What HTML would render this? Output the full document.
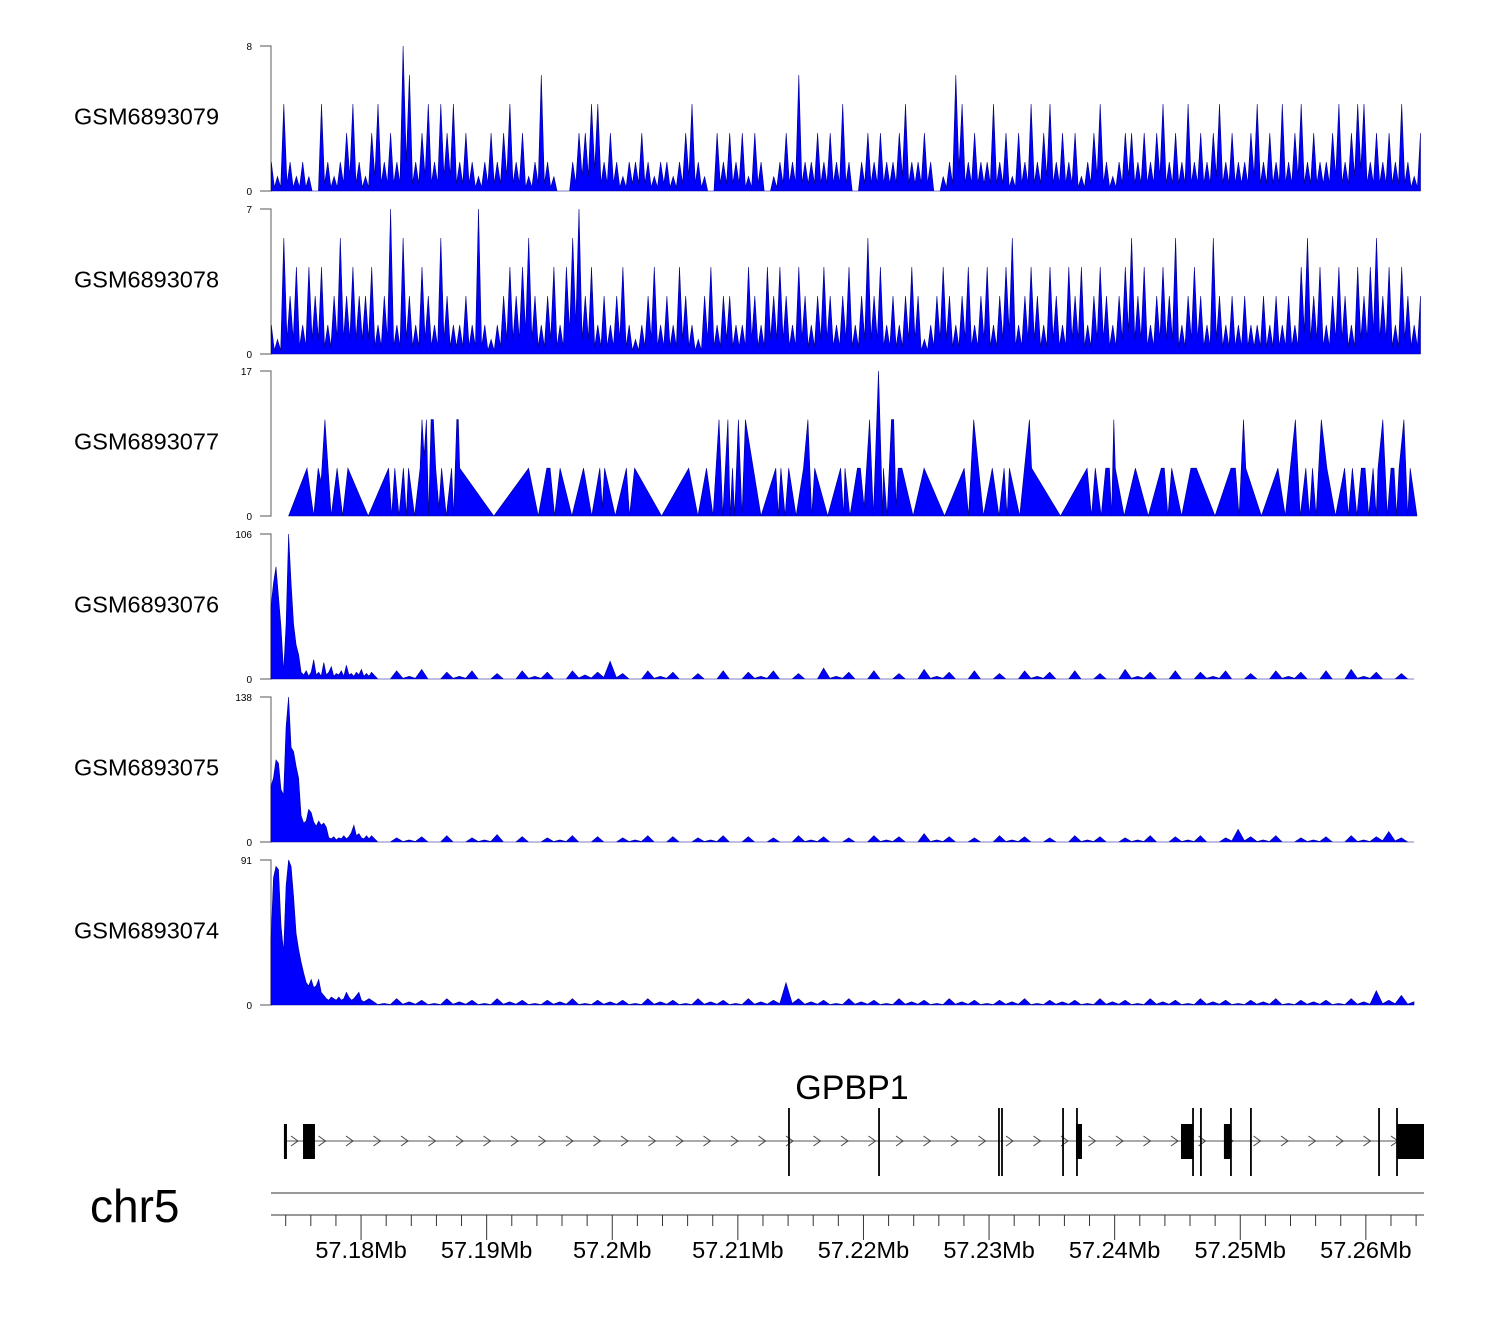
<!DOCTYPE html>
<html><head><meta charset="utf-8"><style>
html,body{margin:0;padding:0;background:#fff;}
svg{display:block;font-family:"Liberation Sans",sans-serif;}
</style></head><body>
<svg id="chart" width="1500" height="1320" viewBox="0 0 1500 1320" xmlns="http://www.w3.org/2000/svg"></svg>
<script>
// ---- data ----
const trackNames = ["GSM6893079","GSM6893078","GSM6893077","GSM6893076","GSM6893075","GSM6893074"];
const trackMax = [8,7,17,106,138,91];
const binStartKb = 2.85, binStepKb = 0.5;
const track1Values = [1.6,0.8,4.8,1.6,0.8,1.6,0.8,0,4.8,1.6,0.8,1.6,3.2,4.8,1.6,0.8,3.2,4.8,1.6,3.2,
1.6,8,6.4,1.6,3.2,4.8,1.6,4.8,3.2,4.8,1.6,3.2,1.6,0.8,1.6,3.2,1.6,3.2,4.8,1.6,
3.2,0.8,1.6,6.4,1.6,0.8,0,0,1.6,3.2,3.2,4.8,4.8,1.6,3.2,1.6,0.8,1.6,1.6,3.2,
1.6,0.8,1.6,1.6,0.8,1.6,3.2,4.8,1.6,0.8,0,3.2,1.6,3.2,1.6,3.2,0.8,3.2,1.6,0,
0.8,1.6,3.2,1.6,6.4,1.6,1.6,3.2,1.6,3.2,1.6,4.8,1.6,0,1.6,3.2,1.6,3.2,1.6,1.6,
3.2,4.8,1.6,1.6,3.2,1.6,0,0.8,1.6,6.4,4.8,1.6,3.2,1.6,1.6,4.8,1.6,3.2,0.8,3.2,
1.6,4.8,1.6,3.2,4.8,1.6,3.2,1.6,3.2,0.8,1.6,3.2,4.8,1.6,0.8,1.6,3.2,3.2,1.6,3.2,
1.6,3.2,4.8,1.6,3.2,1.6,4.8,1.6,3.2,1.6,3.2,4.8,1.6,3.2,1.6,1.6,3.2,4.8,1.6,3.2,
1.6,4.8,1.6,3.2,4.8,1.6,3.2,1.6,1.6,3.2,4.8,1.6,3.2,4.8,4.8,1.6,3.2,1.6,3.2,1.6,
4.8,1.6,0.8,3.2];
const track2Values = [1.4,0.7,5.6,2.8,4.2,1.4,4.2,2.8,4.2,1.4,2.8,5.6,2.8,4.2,2.8,2.8,4.2,1.4,2.8,7,
1.4,5.6,2.8,1.4,4.2,2.8,1.4,5.6,2.8,1.4,1.4,2.8,1.4,7,1.4,0.7,1.4,2.8,4.2,2.8,
4.2,5.6,2.8,1.4,2.8,4.2,1.4,4.2,5.6,7,2.8,4.2,1.4,2.8,1.4,2.8,4.2,1.4,0.7,1.4,
2.8,4.2,1.4,2.8,1.4,4.2,2.8,1.4,0.7,2.8,4.2,1.4,2.8,2.8,1.4,1.4,4.2,2.8,1.4,4.2,
2.8,4.2,2.8,1.4,4.2,2.8,1.4,2.8,4.2,2.8,1.4,2.8,4.2,1.4,2.8,5.6,2.8,4.2,1.4,2.8,
1.4,2.8,4.2,2.8,0.7,1.4,2.8,4.2,2.8,1.4,2.8,4.2,1.4,2.8,4.2,1.4,2.8,4.2,5.6,1.4,
2.8,4.2,2.8,1.4,4.2,2.8,1.4,4.2,2.8,4.2,1.4,2.8,4.2,2.8,1.4,2.8,4.2,5.6,2.8,4.2,
1.4,2.8,4.2,2.8,5.6,1.4,2.8,4.2,2.8,1.4,5.6,2.8,1.4,2.8,1.4,2.8,1.4,1.4,2.8,1.4,
2.8,1.4,2.8,1.4,4.2,5.6,2.8,4.2,1.4,2.8,4.2,2.8,1.4,4.2,2.8,4.2,5.6,2.8,4.2,1.4,
4.2,2.8,1.4,2.8];
const track3Pos = [4.23,5.70,6.23,6.59,6.82,7.12,7.62,8.09,8.53,8.95,10.57,12.19,12.43,12.69,13.02,13.37,13.61,13.78,14.26,14.70,14.85,15.02,15.20,15.38,15.58,15.76,15.94,16.20,16.41,16.79,17.21,17.38,17.62,17.74,17.85,20.57,23.34,24.11,24.79,25.05,25.41,25.85,26.79,27.71,28.36,29.01,29.21,29.39,30.24,31.13,31.37,31.78,33.93,36.09,36.82,37.50,38.03,38.50,38.80,39.21,39.39,39.57,39.74,40.04,40.33,40.60,41.84,43.02,43.22,43.43,43.76,44.05,44.64,45.23,45.58,45.88,46.12,47.15,48.18,48.42,48.53,48.92,
49.52,49.76,50.05,50.49,50.79,51.20,51.53,51.59,51.88,52.23,52.41,52.59,52.77,53.06,53.95,54.83,56.45,58.02,58.37,58.78,59.55,60.26,60.79,61.20,61.44,61.62,62.44,63.21,63.39,65.69,67.81,68.16,68.46,68.93,69.29,69.58,69.76,69.93,70.05,70.76,71.65,72.68,73.71,73.95,74.24,74.54,75.33,76.07,76.51,77.99,79.26,79.61,79.91,80.26,80.44,81.68,83.00,83.59,84.39,84.77,85.22,85.51,85.75,86.04,86.45,86.90,87.58,88.31,88.61,88.93,89.29,89.64,89.94,90.23,90.58,90.82,90.97,91.35,91.71,92.00,92.24,92.45,92.65,93.03,93.33,93.53,94.07];
const track3Values = [0,5.6,0,5.6,4,11.3,0,5.6,0,5.6,0,5.6,0,5.6,0,5.6,0,5.6,0,5.6,11.3,7,11.3,0,11.3,11.3,5.6,1,5.6,0,5.6,0,11.3,11.3,5.6,0,5.6,0,5.6,5.6,0,5.6,0,5.6,0,5.6,1,5.6,0,5.6,0,5.6,0,5.6,0,5.6,0,11.3,0,11.3,0,5.6,0,11.3,0,11.3,0,5.6,0,5.6,0,5.6,0,5.6,11.3,0,5.6,0,5.6,0,5.6,0,
5.6,5.6,1,11.3,0,17,0,5.6,0,11.3,11.3,1,5.6,5.6,0,5.6,0,5.6,0,11.3,0,5.6,0,5.6,0,5.6,0,11.3,5.6,0,5.6,0,5.6,0,5.6,5.6,0,11.3,5.6,0,5.6,0,5.6,5.6,0,5.6,0,5.6,5.6,0,5.6,5.6,0,11.3,5.6,0,5.6,0,11.3,0,5.6,0,5.6,0,11.3,5.6,0,5.6,0,5.6,0,5.6,5.6,0,5.6,0,5.6,11.3,0,5.6,5.6,0,5.6,11.3,0,5.6,0];
const headStartKb = 2.83, headStepKb = 0.2;
const tailStartKb = 10.83, tailStepKb = 1.0;
const track4Head = [53,70,82,60,38,5,40,106,70,40,25,18,5,3,6,2,5,14,3,5,2,12,3,5,9,2,4,3,6,2,10,3,4,2,5,3,7,2,4,2];
const track4Tail = [5,0,6,2,7,0,5,2,6,0,4,0,6,2,5,0,6,3,5,13,4,0,6,2,5,0,4,0,6,0,5,2,6,0,4,0,8,2,5,0,6,0,4,0,7,2,5,0,6,0,4,0,6,2,5,0,6,0,4,0,7,2,5,0,6,0,5,2,6,0,4,0,6,2,5,0,6,0,7,2,5,0,4,0];
const track5Head = [53,61,78,75,50,45,110,138,90,86,72,61,25,18,20,31,28,19,15,20,16,18,14,4,3,5,2,4,3,6,3,5,9,16,6,8,4,3,6,3];
const track5Tail = [6,0,4,2,5,0,6,0,4,2,7,0,5,0,4,2,6,0,5,0,4,2,6,0,5,0,4,2,6,0,5,0,4,0,6,2,5,0,4,0,6,2,5,0,8,2,5,0,4,0,6,2,5,0,4,0,6,2,5,0,4,2,6,0,5,2,6,0,4,12,5,2,6,0,4,2,5,0,6,2,5,10,4,0];
const track6Head = [41,80,87,85,50,33,75,91,87,68,45,35,27,20,14,12,16,11,12,16,8,6,4,3,5,4,3,5,3,4,8,5,3,4,6,8,3,2,3,4];
const track6Tail = [3,1,4,2,3,1,4,2,3,1,4,2,3,1,3,2,4,1,3,2,3,1,4,2,3,1,4,2,3,1,4,2,3,14,4,2,3,1,4,2,3,1,4,2,3,1,4,2,3,1,3,2,4,1,3,2,3,1,4,2,3,1,4,2,3,1,4,2,3,1,3,2,4,1,3,2,3,1,4,2,9,3,6,2];
const tickLabels = ["57.18Mb","57.19Mb","57.2Mb","57.21Mb","57.22Mb","57.23Mb","57.24Mb","57.25Mb","57.26Mb"];
const tickKb = [10,20,30,40,50,60,70,80,90];
const exonStart = [3.86,5.38,66.92,75.28,78.70,92.48];
const exonEnd = [4.10,6.33,67.40,76.24,79.26,94.63];
const tallLines = [44.07,51.24,60.79,61.03,65.89,67.0,76.24,76.87,79.26,80.85,91.05,92.48];

// ---- scales ----
const X0 = 271, X1 = 1424, KB0 = 2.83, PXPERKB = 12.56;
const x = kb => X0 + (kb - KB0) * PXPERKB;
const tops = [46,209,371,534,697,860], H = 145;
const NS = "http://www.w3.org/2000/svg";
const svg = document.getElementById("chart");
function mk(tag, attrs, parent){const e=document.createElementNS(NS,tag);for(const k in attrs)e.setAttribute(k,attrs[k]);(parent||svg).appendChild(e);return e;}

// spike rendering: dip between adjacent bins
function spiky(pts){
  const out=[];
  for(let i=0;i<pts.length;i++){
    out.push(pts[i]);
    if(i<pts.length-1){
      const m=Math.min(pts[i][1],pts[i+1][1])*0.25;
      out.push([(pts[i][0]+pts[i+1][0])/2,m]);
    }
  }
  return out;
}
function headTail(head,tail){
  return head.map((v,i)=>[headStartKb+i*headStepKb,v]).concat(spiky(tail.map((v,i)=>[tailStartKb+i*tailStepKb,v])));
}
const seriesPts = [
  spiky(track1Values.map((v,i)=>[binStartKb+i*binStepKb,v])),
  spiky(track2Values.map((v,i)=>[binStartKb+i*binStepKb,v])),
  track3Values.map((v,i)=>[track3Pos[i],v]),
  headTail(track4Head,track4Tail),
  headTail(track5Head,track5Tail),
  headTail(track6Head,track6Tail)
];

for(let t=0;t<6;t++){
  const top=tops[t], base=top+H, max=trackMax[t];
  const y = v => base - v/max*H;
  const g = mk("g",{});
  
  
  const lbl = mk("text",{x:74,y:top+H/2+6,"font-size":23.5,fill:"#000"},g);
  lbl.textContent = trackNames[t];
  
  
  const ax = mk("path",{d:`M260,${top}H${X0}V${base}H260`,stroke:"#777",fill:"none","stroke-width":1.2},g);
  
  
  const tMax = mk("text",{x:252,y:top+4,"font-size":10,"text-anchor":"end",fill:"#000"},g);
  tMax.textContent = String(max);
  
  
  const tMin = mk("text",{x:252,y:base+4,"font-size":10,"text-anchor":"end",fill:"#000"},g);
  tMin.textContent = "0";
  
  
  const pts = seriesPts[t];
  let d = `M${x(pts[0][0]).toFixed(1)},${base}`;
  pts.forEach(p=>{d+=`L${x(p[0]).toFixed(1)},${y(p[1]).toFixed(1)}`;});
  d += `L${x(pts[pts.length-1][0]).toFixed(1)},${base}Z`;
  const area = mk("path",{d:d,fill:"#0000ff",stroke:"#00008b","stroke-width":0.6,"stroke-linejoin":"miter"},g);
  
  
}

// gene track
const gg = mk("g",{});


const gname = mk("text",{x:852,y:1099,"font-size":34,"text-anchor":"middle",fill:"#000"},gg);
gname.textContent="GPBP1";


const intron = mk("line",{x1:285,y1:1141,x2:1424,y2:1141,stroke:"#777","stroke-width":1.2},gg);


for(let cx=295; cx<1400; cx+=27.5){
  const c = mk("path",{d:`M${cx-4},${1136}L${cx+3},${1141}L${cx-4},${1146}`,stroke:"#444",fill:"none","stroke-width":1},gg);
  
  
}
tallLines.forEach(k=>{
  const l = mk("rect",{x:x(k)-0.9,y:1108,width:1.8,height:68,fill:"#000"},gg);
  
  
});
exonStart.forEach((s,i)=>{
  const r = mk("rect",{x:x(s),y:1124,width:Math.max(2.5,Math.min(x(exonEnd[i]),X1)-x(s)),height:35,fill:"#000"},gg);
  
  
});

// genome axis
const ag = mk("g",{});


const l1 = mk("line",{x1:X0,y1:1193,x2:X1,y2:1193,stroke:"#333","stroke-width":1},ag);


const l2 = mk("line",{x1:X0,y1:1215,x2:X1,y2:1215,stroke:"#333","stroke-width":1},ag);


for(let k=4;k<=94;k+=2){
  const major = tickKb.indexOf(k)>=0;
  const tk = mk("line",{x1:x(k),y1:1215,x2:x(k),y2:major?1240:1226,stroke:"#333","stroke-width":1},ag);
  
  
}
tickKb.forEach((k,i)=>{
  const t = mk("text",{x:x(k),y:1258,"font-size":23.5,"text-anchor":"middle",fill:"#000"},ag);
  t.textContent = tickLabels[i];
  
  
});
const chr = mk("text",{x:90,y:1222,"font-size":46,fill:"#000"});
chr.textContent="chr5";


</script>
</body></html>
